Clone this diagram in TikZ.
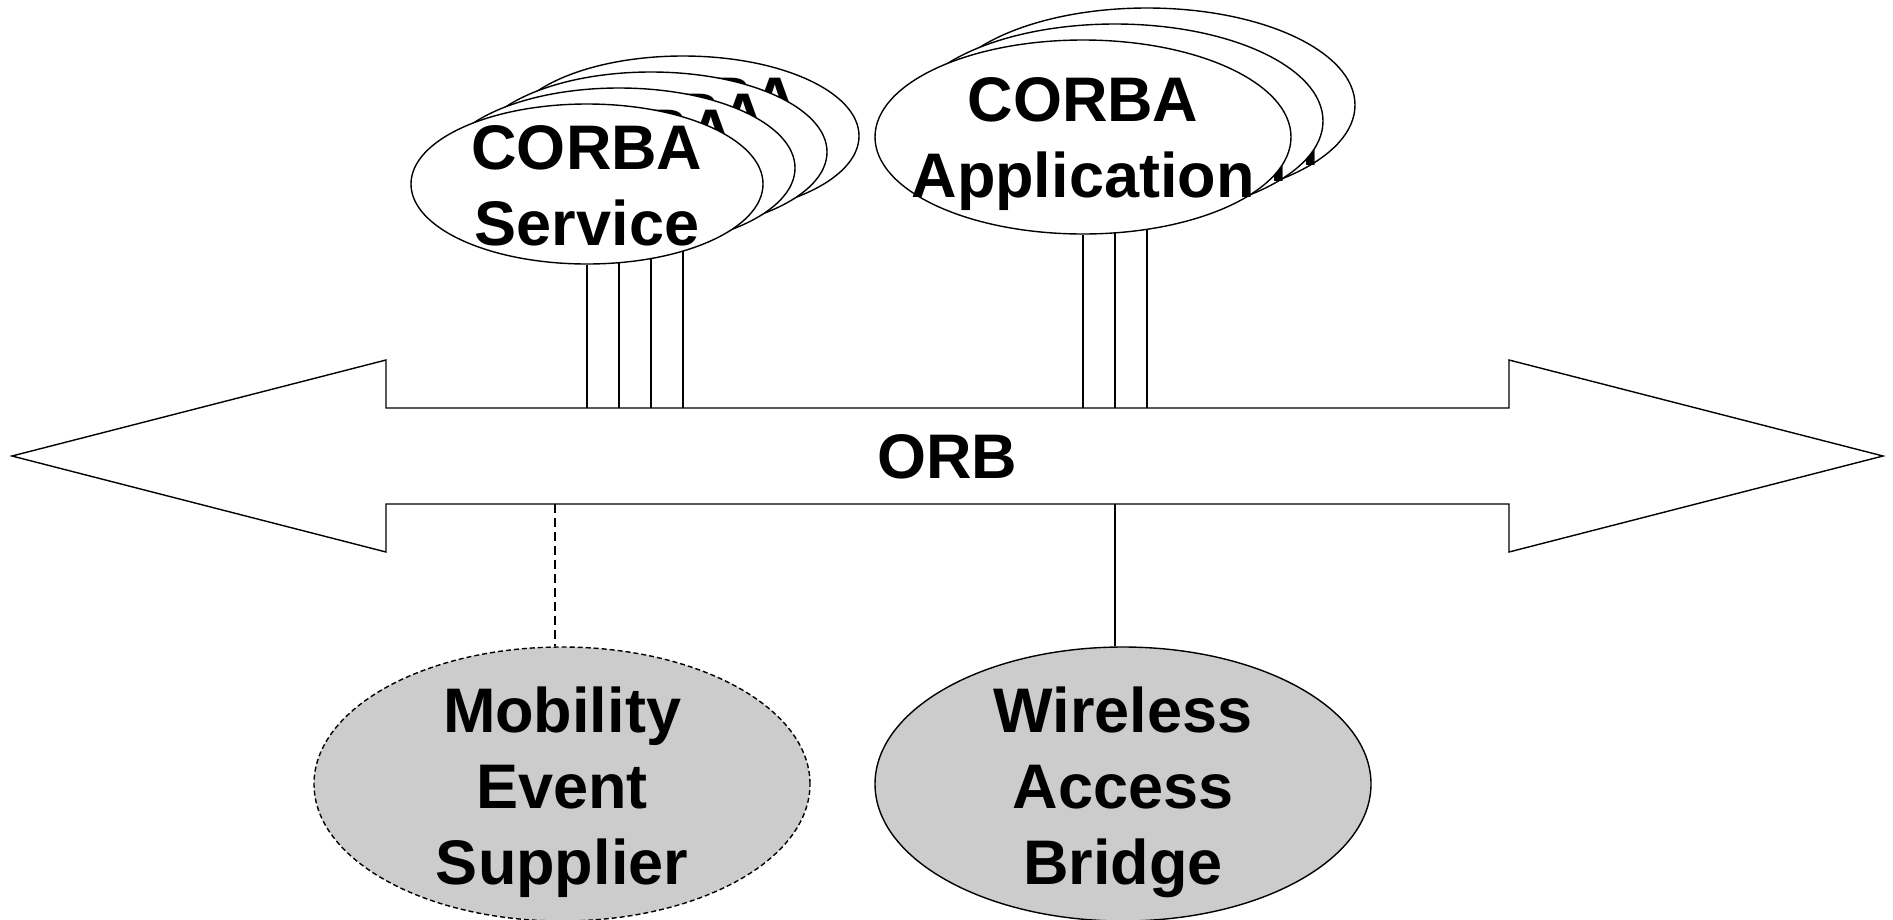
\documentclass[tikz,border=0pt]{standalone}
\usepackage{fontspec}
\setmainfont{Liberation Sans}
\usetikzlibrary{shapes.geometric,backgrounds}
\definecolor{nodegray}{HTML}{CCCCCC}
\begin{document}
\begin{tikzpicture}[x=1pt,y=-1pt, line width=1.4pt,
  oval/.style={ellipse, draw, fill=white, inner sep=0pt},
  lbl/.style={font=\fontsize{63}{76}\selectfont\bfseries, align=center, inner sep=0pt},
  svc/.style={oval, minimum width=352pt, minimum height=160pt},
  app/.style={oval, minimum width=416pt, minimum height=194pt},
  comp/.style={ellipse, draw, fill=nodegray, inner sep=0pt, minimum width=496pt, minimum height=274pt},
  link/.style={line width=1.1pt}]
\useasboundingbox (0,0) rectangle (1893,919);
% ORB bus
\draw[fill=white] (12,456) -- (386,360) -- (386,408) -- (1509,408) -- (1509,360) -- (1883,456)
  -- (1509,552) -- (1509,504) -- (386,504) -- (386,552) -- cycle;
\node[lbl] (orb) at (947,457) {ORB};
\coordinate (busT) at (947,408);
\coordinate (busB) at (947,504);
% CORBA Service stack
\foreach \k in {3,2,1,0} {
  \node[svc] (s\k) at ({587+32*\k},{184-16*\k}) {};
  \node[lbl] (st\k) at ([yshift=-2pt]s\k.center) {CORBA\\Service};
}
% CORBA Application stack
\foreach \k in {2,1,0} {
  \node[app] (a\k) at ({1083+32*\k},{137-16*\k}) {};
  \node[lbl] (at\k) at ([yshift=-7pt]a\k.center) {CORBA\\Application};
}
\begin{scope}[on background layer]
  \foreach \k in {0,...,3} \draw[link] (s\k.south) -- (s\k.south |- busT);
  \foreach \k in {0,1,2} \draw[link] (a\k.south) -- (a\k.south |- busT);
\end{scope}
% bottom components
\node[comp, dash pattern=on 5pt off 3pt] (mob) at (562,784) {};
\node[lbl] (mobt) at ([yshift=-8pt]mob.center) {Mobility\\Event\\Supplier};
\node[comp] (wab) at (1123,784) {};
\node[lbl] (wabt) at ([yshift=-8pt]wab.center) {Wireless\\Access\\Bridge};
\coordinate (mtap) at (555,504);
\coordinate (wtap) at (1115,504);
\draw[link, dash pattern=on 9pt off 5pt] (mtap) -- (mtap |- mob.north);
\draw[link] (wtap) -- (wtap |- wab.north);
\end{tikzpicture}
\end{document}
